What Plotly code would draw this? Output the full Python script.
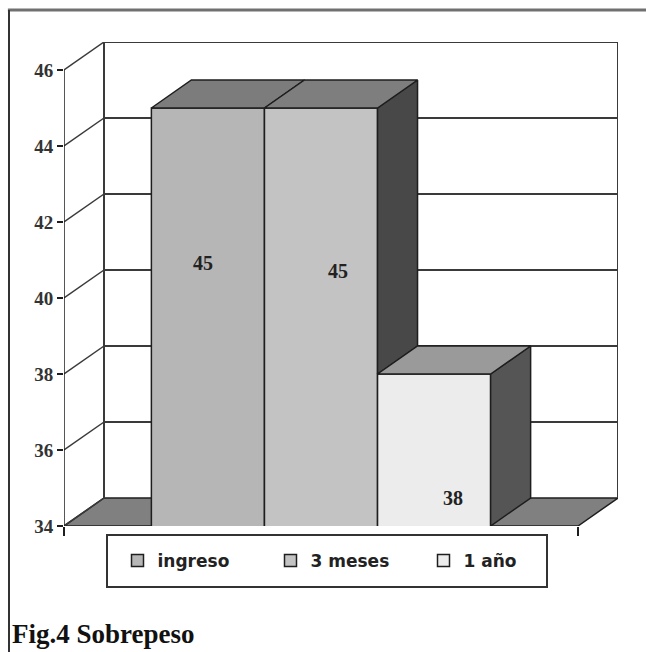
import plotly.graph_objects as go

# ---- data -------------------------------------------------------------
series = ["ingreso", "3 meses", "1 año"]
values = [45, 45, 38]
y_ticks = [34, 36, 38, 40, 42, 44, 46]
y_min, y_max = 34, 46
title_text = "Fig.4 Sobrepeso"

# ---- styles -----------------------------------------------------------
front_colors = ["#b6b6b6", "#c3c3c3", "#ececec"]
top_colors = ["#7c7c7c", "#7e7e7e", "#9a9a9a"]
side_colors = ["#464646", "#484848", "#555555"]
edge = "#1e1e1e"
grid_color = "#3a3a3a"
floor_color = "#808080"
serif = "Liberation Serif, Times New Roman, serif"
# where each value label sits: x shift from bar centre (x units) and
# height as a fraction of the bar above the floor
label_dx = [-0.01, 0.033, 0.037]
label_frac = [0.63, 0.61, 0.185]

# ---- oblique projection ----------------------------------------------
W, H = 646, 652
L, T = 64, 42                      # front plane's left edge / wall top (px)
PX_X = 514                         # px per x unit on the front plane
PX_Y = 38                          # px per value unit
DEPTH_PX = (40, 28)                # depth offset of the back wall (px)
dx = DEPTH_PX[0] / PX_X
dy = DEPTH_PX[1] / PX_Y
plot_w = PX_X * (1 + dx)
plot_h = PX_Y * (y_max - y_min + dy)
R = W - L - plot_w
B = H - T - plot_h

bar_w = 0.22
n = len(values)
offsets = [-n * bar_w / 2 + i * bar_w for i in range(n)]
center = 0.5


def px_to_paper(px, py):
    return (px - L) / plot_w, (T + plot_h - py) / plot_h


fig = go.Figure()

# front faces
for i, (name, v) in enumerate(zip(series, values)):
    fig.add_trace(go.Bar(
        x=[center], y=[v], width=[bar_w], offset=[offsets[i]], name=name,
        marker=dict(color=front_colors[i], line=dict(color=edge, width=1.5)),
        hoverinfo="skip",
    ))

# top and right-side faces
for i, v in enumerate(values):
    x0 = center + offsets[i]
    x1 = x0 + bar_w
    # side face is hidden below the next bar's top
    base = values[i + 1] if i + 1 < n else y_min
    base = max(base, y_min)
    if base < v:
        fig.add_trace(go.Scatter(
            x=[x1, x1, x1 + dx, x1 + dx, x1],
            y=[base, v, v + dy, base + dy, base],
            mode="lines", fill="toself", fillcolor=side_colors[i],
            line=dict(color=edge, width=1.5), showlegend=False, hoverinfo="skip",
        ))
    fig.add_trace(go.Scatter(
        x=[x0, x1, x1 + dx, x0 + dx, x0],
        y=[v, v, v + dy, v + dy, v],
        mode="lines", fill="toself", fillcolor=top_colors[i],
        line=dict(color=edge, width=1.5), showlegend=False, hoverinfo="skip",
    ))

# value labels
for i, v in enumerate(values):
    fig.add_annotation(
        x=center + offsets[i] + bar_w / 2 + label_dx[i],
        y=y_min + (v - y_min) * label_frac[i],
        text=str(v), showarrow=False,
        font=dict(family=serif, size=20, color="#222", weight="bold"),
    )

shapes = []
# floor
shapes.append(dict(
    type="path", xref="x", yref="y", layer="below",
    path=f"M 0,{y_min} L 1,{y_min} L {1 + dx},{y_min + dy} L {dx},{y_min + dy} Z",
    fillcolor=floor_color, line=dict(color=edge, width=1.5),
))
# back wall gridlines and left wall diagonals
for t in y_ticks:
    if t > y_min:
        shapes.append(dict(type="line", xref="x", yref="y", layer="below",
                           x0=dx, x1=1 + dx, y0=t + dy, y1=t + dy,
                           line=dict(color=grid_color, width=2)))
    shapes.append(dict(type="line", xref="x", yref="y", layer="below",
                       x0=0, x1=dx, y0=t, y1=t + dy,
                       line=dict(color=grid_color, width=1.5)))
# wall verticals
shapes.append(dict(type="line", xref="x", yref="y", layer="below",
                   x0=dx, x1=dx, y0=y_min + dy, y1=y_max + dy,
                   line=dict(color=grid_color, width=2)))
shapes.append(dict(type="line", xref="x", yref="y", layer="below",
                   x0=1 + dx, x1=1 + dx, y0=y_min + dy, y1=y_max + dy,
                   line=dict(color=grid_color, width=2)))
# value axis line on the front plane
shapes.append(dict(type="line", xref="x", yref="y", layer="above",
                   x0=0, x1=0, y0=y_min, y1=y_max,
                   line=dict(color=edge, width=1.5)))

# legend frame
lx0, ly0 = px_to_paper(107, 587)
lx1, ly1 = px_to_paper(547, 535)
shapes.append(dict(type="rect", xref="paper", yref="paper",
                   x0=lx0, x1=lx1, y0=ly0, y1=ly1,
                   line=dict(color="#333", width=2), fillcolor="rgba(0,0,0,0)"))

# outer frame (top and left edges)
fx0, fy0 = px_to_paper(9, 652)
fx1, fy1 = px_to_paper(646, 10)
shapes.append(dict(type="line", xref="paper", yref="paper",
                   x0=fx0 - 0.002, x1=fx1, y0=fy1, y1=fy1,
                   line=dict(color="#707070", width=3)))
shapes.append(dict(type="line", xref="paper", yref="paper",
                   x0=fx0, x1=fx0, y0=fy0, y1=fy1,
                   line=dict(color="#333", width=2)))

lcx, lcy = px_to_paper(347, 561)

fig.update_layout(
    width=W, height=H, autosize=False,
    margin=dict(l=L, r=R, t=T, b=B, pad=0),
    paper_bgcolor="white", plot_bgcolor="white",
    barmode="overlay",
    shapes=shapes,
    showlegend=True,
    legend=dict(
        orientation="h", x=lcx, xanchor="center", y=lcy, yanchor="middle",
        font=dict(family="DejaVu Sans", size=17, color="#222", weight="bold"),
        bgcolor="rgba(0,0,0,0)", borderwidth=0, entrywidth=108,
        traceorder="normal",
    ),
    title=dict(
        text=title_text, x=12 / W, xanchor="left", y=(H - 634) / H, yanchor="middle",
        xref="container", yref="container",
        font=dict(family=serif, size=27, color="#111", weight="bold"),
    ),
    xaxis=dict(
        range=[0, 1 + dx], tickvals=[0, 1], ticks="outside", ticklen=9,
        tickcolor=edge, tickwidth=1.5, showticklabels=False,
        showgrid=False, zeroline=False, showline=False, fixedrange=True,
    ),
    yaxis=dict(
        range=[y_min, y_max + dy], tickvals=y_ticks, ticks="outside", ticklen=6,
        tickcolor=edge, tickwidth=1.5, showgrid=False, zeroline=False,
        showline=False, fixedrange=True,
        tickfont=dict(family=serif, size=19, color="#333", weight="bold"),
    ),
)

fig.write_html("out.html")
